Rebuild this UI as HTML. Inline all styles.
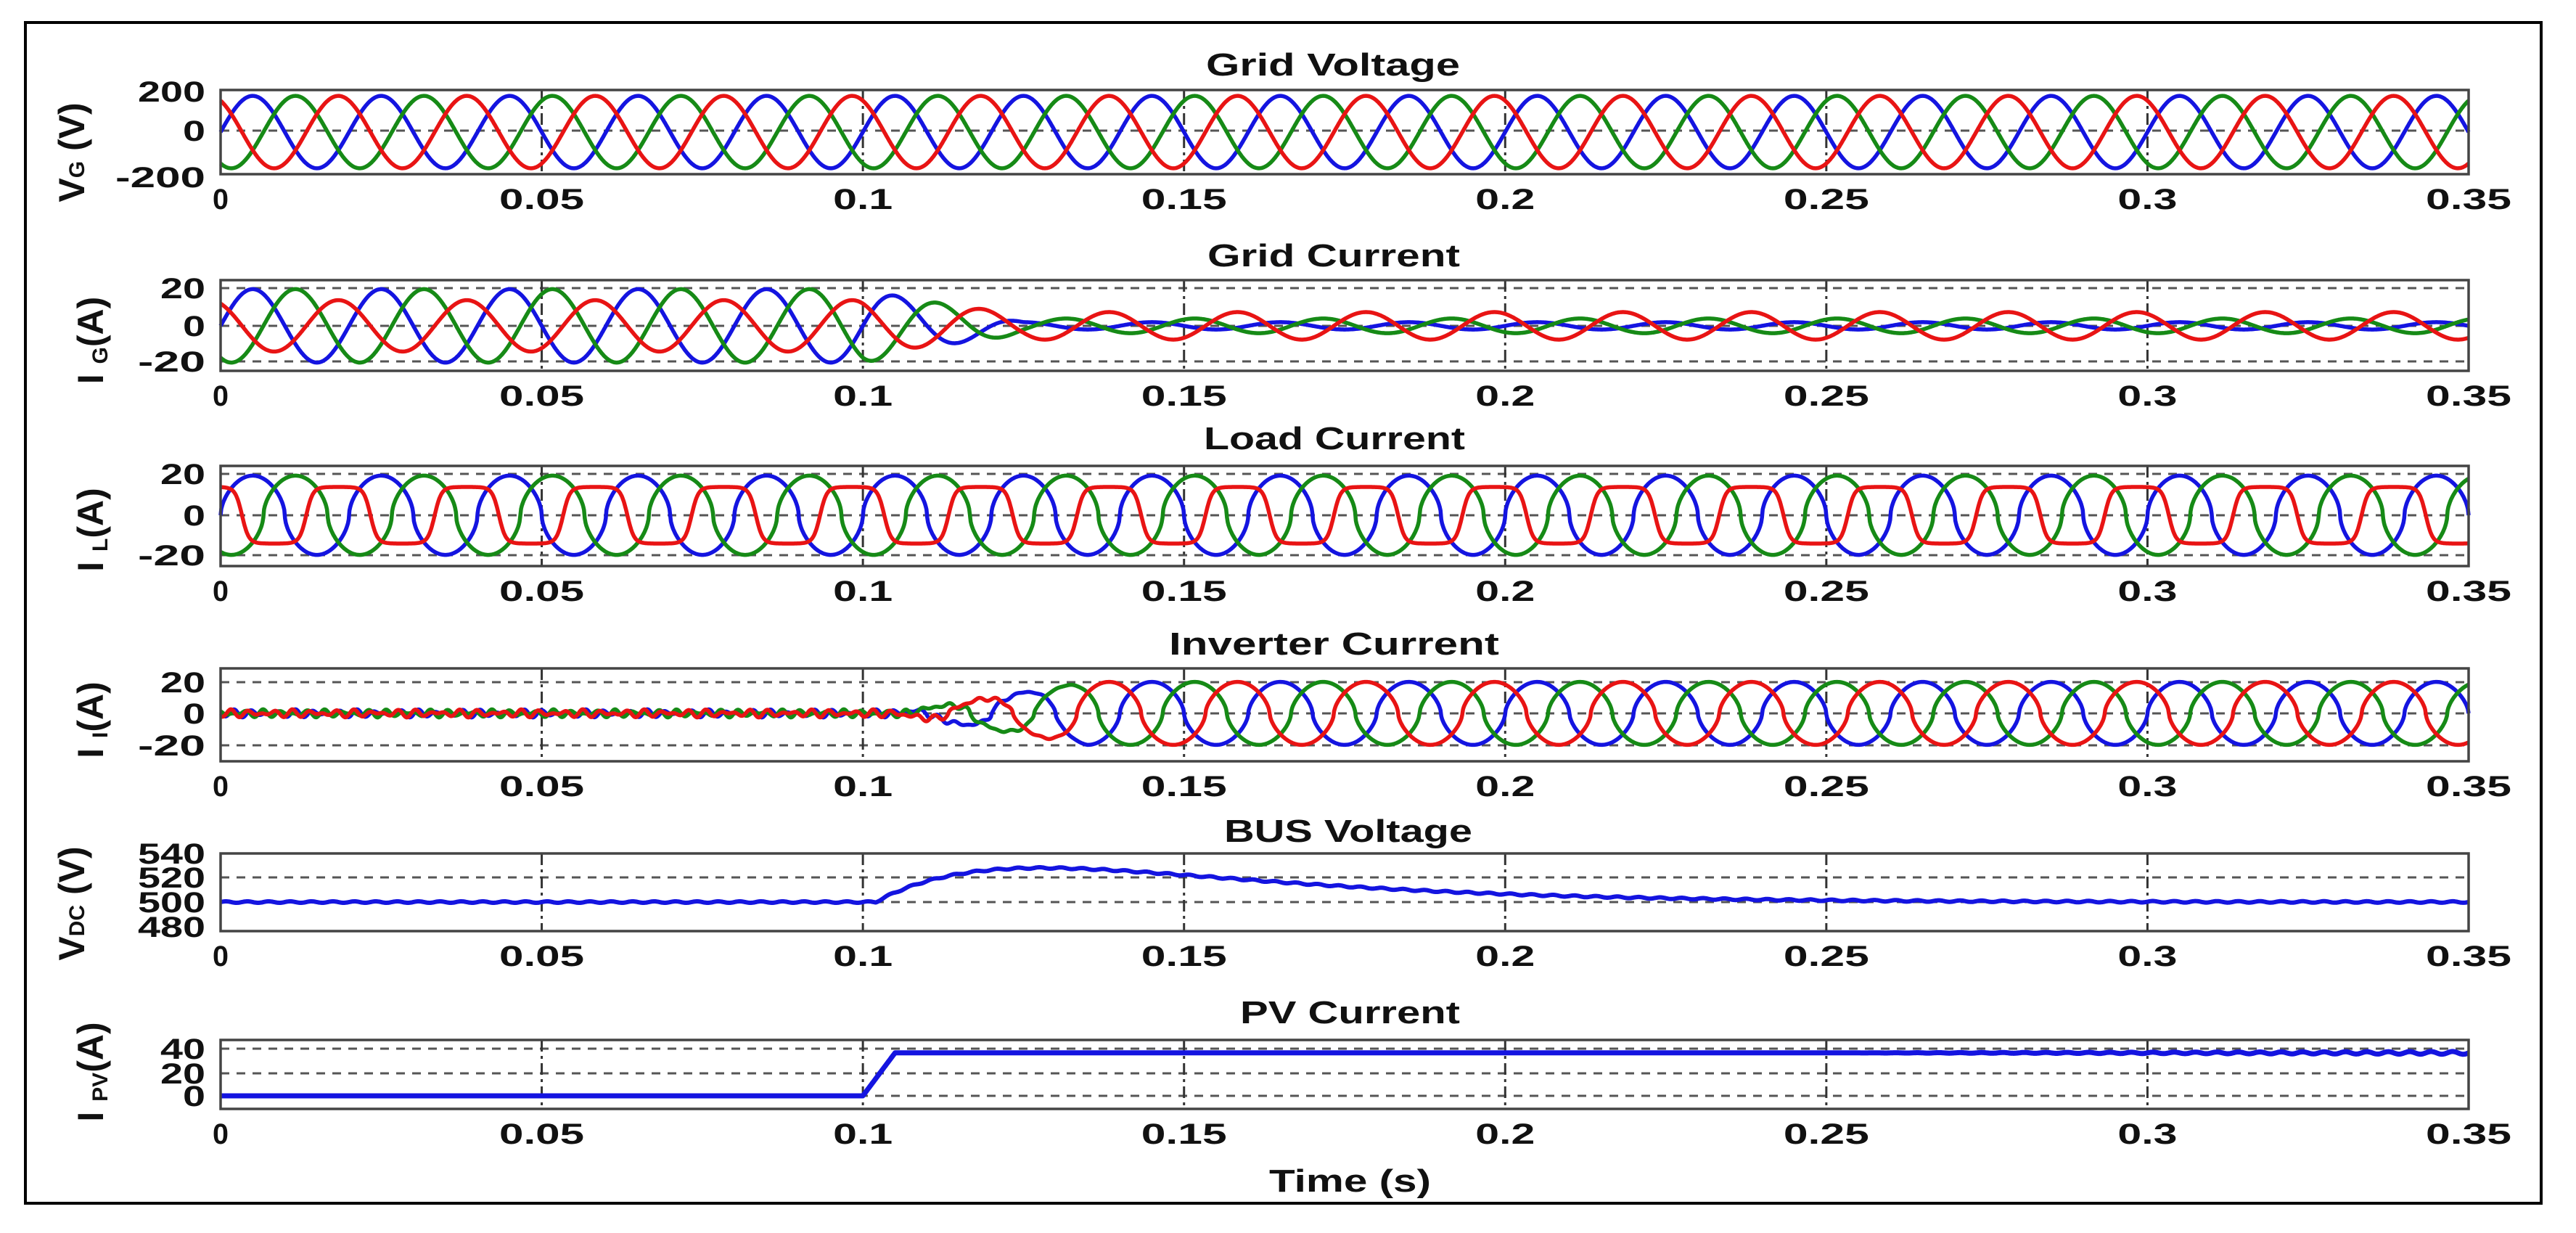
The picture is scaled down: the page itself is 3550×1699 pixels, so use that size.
<!DOCTYPE html>
<html><head><meta charset="utf-8"><style>
html,body{margin:0;padding:0;background:#fff;}
svg{display:block;}
text{font-family:"Liberation Sans",Arial,sans-serif;font-weight:bold;fill:#111;}
</style></head><body>
<svg id="s" width="3550" height="1699" viewBox="0 0 3550 1699" xmlns="http://www.w3.org/2000/svg">
<rect x="0" y="0" width="3550" height="1699" fill="#fff"/>
<rect x="35" y="31" width="3467" height="1627" fill="none" stroke="#000" stroke-width="4"/>
<g id="g"></g>
<text x="1662" y="104" font-size="44" textLength="350" lengthAdjust="spacingAndGlyphs">Grid Voltage</text>
<text x="1664" y="367" font-size="44" textLength="348" lengthAdjust="spacingAndGlyphs">Grid Current</text>
<text x="1659" y="619" font-size="44" textLength="360" lengthAdjust="spacingAndGlyphs">Load Current</text>
<text x="1611" y="902" font-size="44" textLength="455" lengthAdjust="spacingAndGlyphs">Inverter Current</text>
<text x="1687" y="1160" font-size="44" textLength="342" lengthAdjust="spacingAndGlyphs">BUS Voltage</text>
<text x="1709" y="1410" font-size="44" textLength="303" lengthAdjust="spacingAndGlyphs">PV Current</text>
<text x="1749" y="1642" font-size="44" textLength="223" lengthAdjust="spacingAndGlyphs">Time (s)</text>
<text transform="translate(116,210) rotate(-90)" font-size="50" text-anchor="middle">V<tspan font-size="30">G</tspan> (V)</text>
<text transform="translate(142,469) rotate(-90)" font-size="50" text-anchor="middle">I <tspan font-size="30" dy="6">G</tspan><tspan dy="-6">(A)</tspan></text>
<text transform="translate(142,730) rotate(-90)" font-size="50" text-anchor="middle">I <tspan font-size="30" dy="6">L</tspan><tspan dy="-6">(A)</tspan></text>
<text transform="translate(142,992) rotate(-90)" font-size="50" text-anchor="middle">I <tspan font-size="30" dy="6">I</tspan><tspan dy="-6">(A)</tspan></text>
<text transform="translate(116,1245) rotate(-90)" font-size="50" text-anchor="middle">V<tspan font-size="30">DC</tspan> (V)</text>
<text transform="translate(142,1477) rotate(-90)" font-size="50" text-anchor="middle">I <tspan font-size="30" dy="6">PV</tspan><tspan dy="-6">(A)</tspan></text>
</svg>
<script>
var NS="http://www.w3.org/2000/svg",G=document.getElementById('g');
function el(n,a,t){var e=document.createElementNS(NS,n);for(var k in a)e.setAttribute(k,a[k]);if(t!=null)e.textContent=t;G.appendChild(e);return e;}
var X0=304,X1=3402;function X(t){return X0+(X1-X0)*t/0.35;}
var panels=[
 {top:124,bot:240,tb:288,yt:[[200,126,0],[0,180,1],[-200,244,0]]},
 {top:386,bot:511,tb:559,yt:[[20,397,1],[0,449,1],[-20,498,1]]},
 {top:642,bot:780,tb:828,yt:[[20,653,1],[0,710,1],[-20,765,1]]},
 {top:921,bot:1049,tb:1097,yt:[[20,940,1],[0,983,1],[-20,1027,1]]},
 {top:1176,bot:1283,tb:1331,yt:[[540,1176,0],[520,1209,1],[500,1243,1],[480,1277,0]]},
 {top:1433,bot:1528,tb:1576,yt:[[40,1445,1],[20,1479,1],[0,1510,1]]}
];
var xl=["0","0.05","0.1","0.15","0.2","0.25","0.3","0.35"];
var xw=[22,117,82,118,82,118,82,118];
panels.forEach(function(p){
 el('rect',{x:X0,y:p.top,width:X1-X0,height:p.bot-p.top,fill:'#fff',stroke:'none'});
 p.yt.forEach(function(y){
  if(y[2])el('line',{x1:X0,x2:X1,y1:y[1],y2:y[1],stroke:'#555','stroke-width':3,'stroke-dasharray':'12,10'});
  el('text',{x:283,y:y[1]+14,'font-size':40,'text-anchor':'end',textLength:(String(y[0]).length*31),lengthAdjust:'spacingAndGlyphs'},String(y[0]));
 });
 for(var i=1;i<7;i++){var x=X(i*0.05);el('line',{x1:x,x2:x,y1:p.top,y2:p.bot,stroke:'#333','stroke-width':3,'stroke-dasharray':'16,6,4,6'});}
 for(var i=0;i<8;i++){var x=X(i*0.05);el('text',{x:x-xw[i]/2,y:p.tb,'font-size':40,textLength:xw[i],lengthAdjust:'spacingAndGlyphs'},xl[i]);}
});
var W=2*Math.PI*50,N=3000;
function line(f,col,sw){var pts=[];for(var k=0;k<=N;k++){var t=0.35*k/N;pts.push(X(t).toFixed(1)+','+f(t).toFixed(1));}
 el('polyline',{points:pts.join(' '),fill:'none',stroke:col,'stroke-width':sw||5.5,'stroke-linejoin':'round'});}
function clip(v,a){return Math.max(-a,Math.min(a,v));}
function pw(s,e){return (s<0?-1:1)*Math.pow(Math.abs(s),e);}
var B='#1414e0',R='#e81414',Gr='#168a16';
var ph={b:0,r:2*Math.PI/3,g:-2*Math.PI/3};
var cols=[['b',B],['g',Gr],['r',R]];
cols.forEach(function(c){line(function(t){return 182-58/200*172*Math.sin(W*t+ph[c[0]]);},c[1]);});
function sm(t,a,b){return t<a?0:t>b?1:(t-a)/(b-a);}
var amp0={b:20,g:20,r:14},amp1={b:2,g:4,r:7.5};
cols.forEach(function(c){var k=c[0];line(function(t){var s=sm(t,0.1,0.125);var a=amp0[k]*(1-s)+amp1[k]*s;return 449-2.53*a*Math.sin(W*t+ph[k]);},c[1]);});
function lc(k,t){var x=W*t+ph[k],s=Math.sin(x);if(k=='r')return 14*Math.tanh(3*s);return 19.5*pw(s,0.55);}
cols.forEach(function(c){line(function(t){return 710-2.8*lc(c[0],t);},c[1]);});
cols.forEach(function(c){var k=c[0];line(function(t){var e=sm(t,0.105,0.135);var n=(1-e)*2.6*Math.sin(W*7.3*t+ph[k]*2)*Math.sin(W*1.1*t+k.charCodeAt(0));var s=Math.sin(W*t+ph[k]);var v=20*pw(s,0.6);return 983-2.17*(e*v+n);},c[1]);});
line(function(t){var v=500;if(t>0.102){var d=t-0.102,tau=0.026;v=500+28*Math.E/tau*d*Math.exp(-d/tau);}v+=0.6*Math.sin(W*6*t);return 1243-1.68*(v-500);},B,6);
line(function(t){var v=0;if(t>0.1)v=t<0.105?37*(t-0.1)/0.005:37;if(t>0.25)v+=1.2*Math.sin(W*6*t)*(t-0.25)/0.1;return 1510-1.6*v;},B,7);
panels.forEach(function(p){el('rect',{x:X0,y:p.top,width:X1-X0,height:p.bot-p.top,fill:'none',stroke:'#444','stroke-width':3.5});});
</script>
</body></html>
